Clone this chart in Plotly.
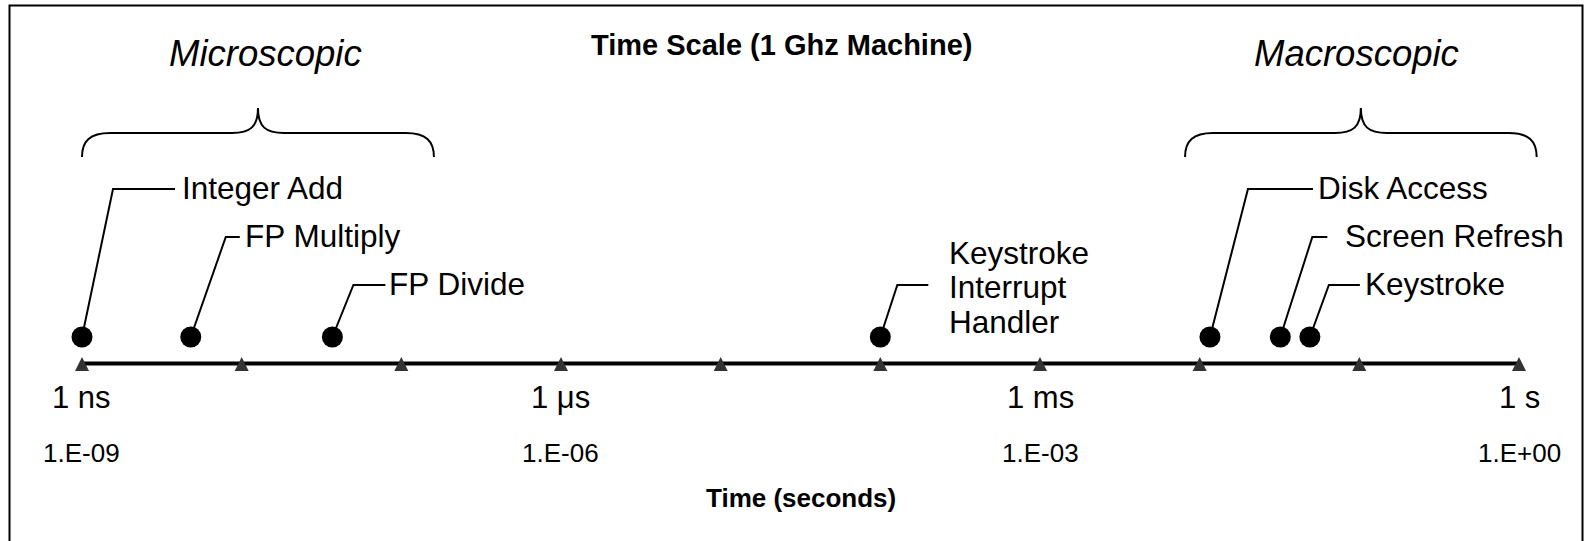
import numpy as np
import plotly.graph_objects as go

# ---------------- data ----------------
event_labels = ["Integer Add", "FP Multiply", "FP Divide",
                "Keystroke<br>Interrupt<br>Handler",
                "Disk Access", "Screen Refresh", "Keystroke"]
event_times = [1.0e-9, 4.8e-9, 3.7e-8, 1.0e-4, 1.16e-2, 3.2e-2, 4.9e-2]
event_rows = [0, 1, 2, 2, 0, 1, 2]

tick_values = [1e-9, 1e-8, 1e-7, 1e-6, 1e-5, 1e-4, 1e-3, 1e-2, 1e-1, 1e0]
unit_tick_values = [1e-9, 1e-6, 1e-3, 1e0]
unit_tick_labels = ["1 ns", "1 μs", "1 ms", "1 s"]
sci_tick_labels = ["1.E-09", "1.E-06", "1.E-03", "1.E+00"]

scale_names = ["Microscopic", "Macroscopic"]
scale_starts = [1.0e-9, 8.1e-3]
scale_ends = [1.6e-7, 1.29]

title_text = "Time Scale (1 Ghz Machine)"
axis_title_text = "Time (seconds)"

# ---------------- layout / style ----------------
W, H = 1584, 541
PX_FIRST, PX_LAST = 82.0, 1519.0
PPD = (PX_LAST - PX_FIRST) / (np.log10(tick_values[-1]) - np.log10(tick_values[0]))
XMIN = np.log10(tick_values[0]) - PX_FIRST / PPD
XMAX = np.log10(tick_values[-1]) + (W - PX_LAST) / PPD

FONT = "Liberation Sans, Arial, sans-serif"
AXIS_Y = 363.5
DOT_Y = 337.0
ROW_Y = [189, 237, 285]
LINE_H = 34.5

# per-event leader styling (pixels): elbow dx, horizontal length, gap to text
elbow_dx = [31, 35, 21, 17, 38, 32, 19]
seg_len = [62, 14, 32, 31, 65, 15, 31]
text_gap = [5, 3, 2, 19, 3, 16, 3]


def px_of(v):
    return (np.log10(v) - XMIN) / (XMAX - XMIN) * W


def paper_x(px):
    return px / W


fig = go.Figure()

# axis line
fig.add_trace(go.Scatter(
    x=[tick_values[0], tick_values[-1]], y=[AXIS_Y, AXIS_Y], mode="lines",
    line=dict(color="black", width=4), hoverinfo="skip", cliponaxis=False))
# event dots
fig.add_trace(go.Scatter(
    x=event_times, y=[DOT_Y] * len(event_times), mode="markers",
    marker=dict(symbol="circle", size=21, color="black"),
    text=event_labels, hoverinfo="text+x", cliponaxis=False))

shapes = []
annotations = []

# frame
shapes.append(dict(type="rect", xref="paper", yref="y",
                   x0=paper_x(9.5), x1=paper_x(1582.5), y0=5.5, y1=600,
                   line=dict(color="black", width=2), fillcolor="rgba(0,0,0,0)"))

# tick triangles (pixel-sized, anchored at each decade on the axis line)
for v in tick_values:
    shapes.append(dict(type="path", xref="paper", yref="y",
                       xsizemode="pixel", ysizemode="pixel",
                       xanchor=paper_x(px_of(v)), yanchor=AXIS_Y,
                       path="M -7,-7.5 L 7,-7.5 L 0,6.5 Z",
                       fillcolor="#333333", line=dict(width=0), layer="above"))

# leaders + labels
for i, (lab, t, r) in enumerate(zip(event_labels, event_times, event_rows)):
    dx = px_of(t)
    ex = dx + elbow_dx[i]
    ry = ROW_Y[r]
    end = ex + seg_len[i]
    path = "M {a},{b} L {c},{d} L {e},{d}".format(
        a=paper_x(dx), b=DOT_Y, c=paper_x(ex), d=ry, e=paper_x(end))
    shapes.append(dict(type="path", xref="paper", yref="y", path=path,
                       line=dict(color="black", width=2), layer="below"))
    lines = lab.split("<br>")
    if len(lines) == 1:
        ys = [ry - 1]
    else:
        mid = ry + 2
        ys = [mid + (k - (len(lines) - 1) / 2) * LINE_H for k in range(len(lines))]
    for ln, yy in zip(lines, ys):
        annotations.append(dict(
            text=ln, xref="paper", yref="y", x=paper_x(end + text_gap[i]), y=yy,
            xanchor="left", yanchor="middle", showarrow=False,
            font=dict(family=FONT, size=31.5, color="black")))

# braces + scale names
BR_END, BR_H, BR_TIP = 157, 133, 108
name_dx = [8, -4]
for nm, s0, s1, ndx in zip(scale_names, scale_starts, scale_ends, name_dx):
    xl, xr = px_of(s0), px_of(s1)
    xm = (xl + xr) / 2
    P = lambda px: paper_x(px)
    path = (f"M {P(xl)},{BR_END} C {P(xl)},{BR_H+8} {P(xl+8)},{BR_H} {P(xl+28)},{BR_H} "
            f"L {P(xm-26)},{BR_H} C {P(xm-8)},{BR_H} {P(xm)},{BR_H-6} {P(xm)},{BR_TIP} "
            f"C {P(xm)},{BR_H-6} {P(xm+8)},{BR_H} {P(xm+26)},{BR_H} "
            f"L {P(xr-28)},{BR_H} C {P(xr-8)},{BR_H} {P(xr)},{BR_H+8} {P(xr)},{BR_END}")
    shapes.append(dict(type="path", xref="paper", yref="y", path=path,
                       line=dict(color="black", width=2)))
    annotations.append(dict(
        text=f"<i>{nm}</i>", xref="paper", yref="y", x=paper_x(xm + ndx), y=53,
        xanchor="center", yanchor="middle", showarrow=False,
        font=dict(family=FONT, size=36.5, color="black")))

# tick labels
for v, u, s in zip(unit_tick_values, unit_tick_labels, sci_tick_labels):
    annotations.append(dict(
        text=u, xref="paper", yref="y", x=paper_x(px_of(v)), y=397,
        xanchor="center", yanchor="middle", showarrow=False,
        font=dict(family=FONT, size=31, color="black")))
    annotations.append(dict(
        text=s, xref="paper", yref="y", x=paper_x(px_of(v)), y=452.5,
        xanchor="center", yanchor="middle", showarrow=False,
        font=dict(family=FONT, size=26, color="black")))

# titles
annotations.append(dict(
    text=f"<b>{title_text}</b>", xref="paper", yref="y", x=paper_x(781), y=45,
    xanchor="center", yanchor="middle", showarrow=False,
    font=dict(family=FONT, size=29, color="black")))
annotations.append(dict(
    text=f"<b>{axis_title_text}</b>", xref="paper", yref="y",
    x=paper_x((PX_FIRST + PX_LAST) / 2), y=497.5,
    xanchor="center", yanchor="middle", showarrow=False,
    font=dict(family=FONT, size=26, color="black")))

fig.update_layout(
    width=W, height=H,
    margin=dict(l=0, r=0, t=0, b=0, pad=0),
    paper_bgcolor="white", plot_bgcolor="white",
    showlegend=False,
    xaxis=dict(type="log", range=[XMIN, XMAX], visible=False, fixedrange=True),
    yaxis=dict(range=[H, 0], visible=False, fixedrange=True),
    shapes=shapes, annotations=annotations,
)

fig.write_html("out.html", config={"displayModeBar": False},
               post_script="document.body.style.margin='0px';document.body.style.overflow='hidden';")
